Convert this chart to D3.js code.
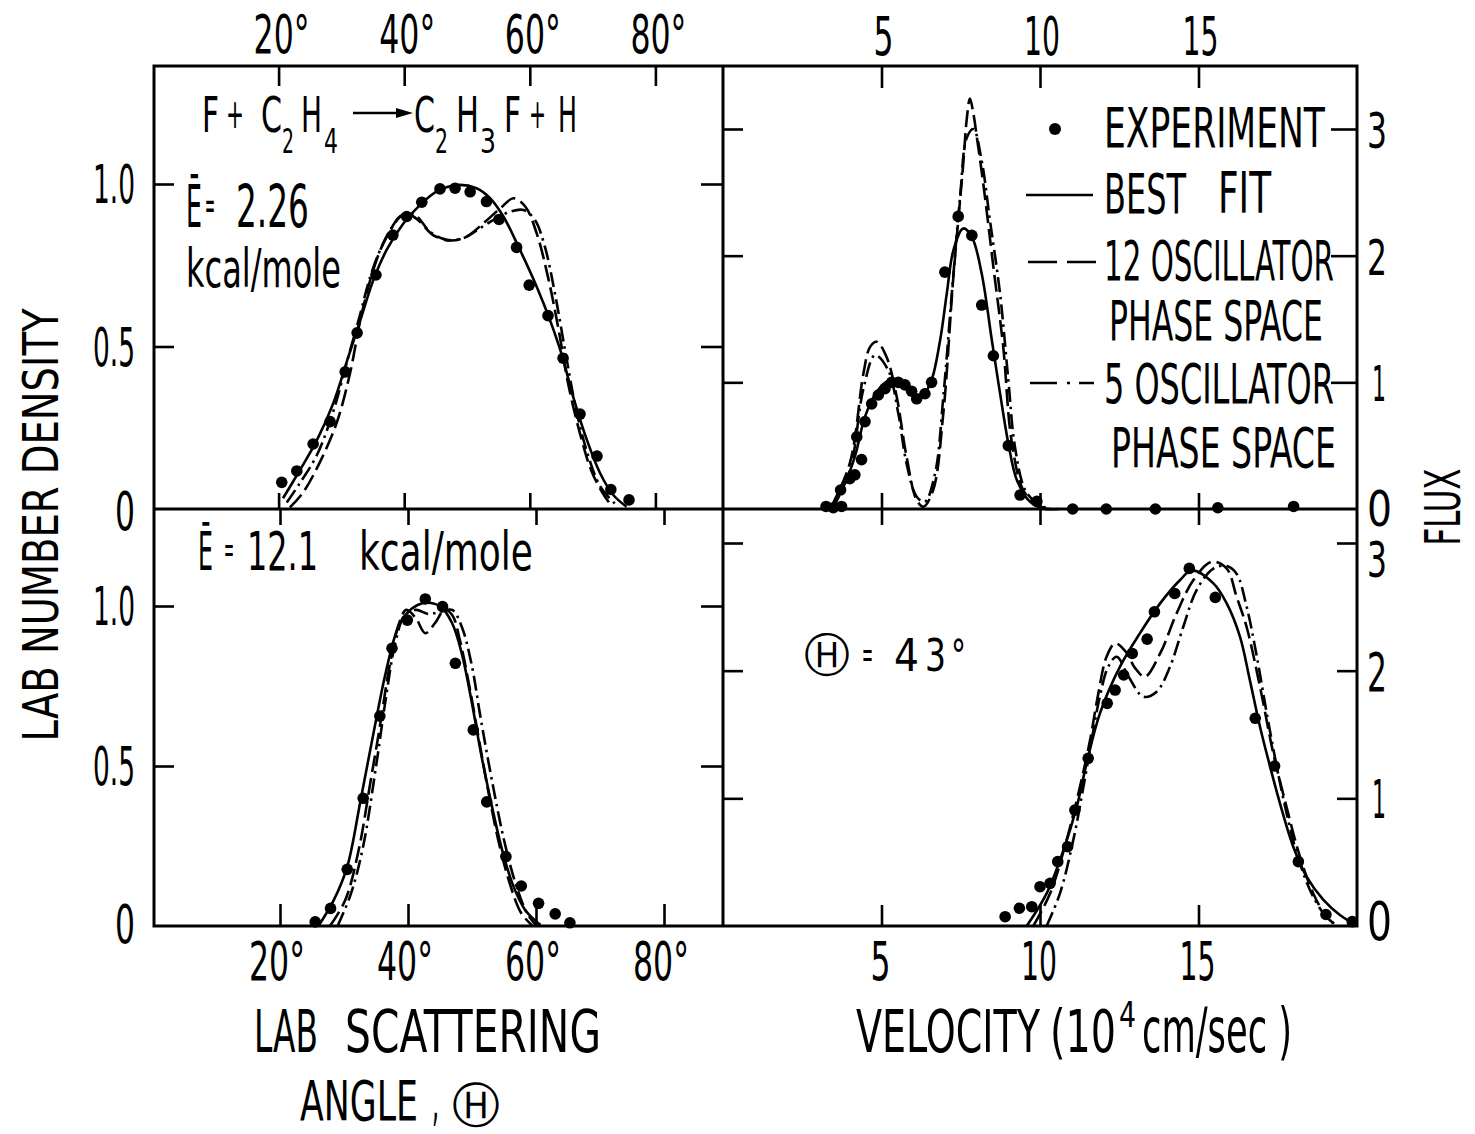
<!DOCTYPE html>
<html><head><meta charset="utf-8">
<script src="https://cdn.jsdelivr.net/npm/d3@7"></script>
<style>body{margin:0;background:#fff}</style>
</head><body>
<svg id="c" width="1475" height="1134" xmlns="http://www.w3.org/2000/svg"></svg>
<script>
// ---------------- DATA ----------------
const angleTicks = [20, 40, 60, 80];
const velocityTicks = [5, 10, 15];
const densityTicks = [0, 0.5, 1.0];
const densityLabels = ["0", "0.5", "1.0"];
const fluxTicks = [0, 1, 2, 3];
const fluxLabels = ["0", "1", "2", "3"];

// top-left: angle (deg) vs lab number density, E = 2.26 kcal/mole
const tlExperiment = [[20.5,0.082],[22.9,0.117],[25.5,0.200],[28.2,0.269],[30.6,0.422],[32.5,0.542],[35.5,0.720],[38.2,0.843],[40.4,0.900],[42.8,0.944],[45.7,0.985],[48.1,0.987],[50.5,0.976],[53.1,0.946],[55.1,0.891],[57.9,0.805],[59.9,0.689],[62.9,0.595],[65.3,0.464],[68.0,0.292],[70.7,0.163],[72.9,0.060],[75.8,0.028]];
const tlBestFit = [[20.7,0.033],[23.4,0.12],[26.1,0.212],[28.7,0.325],[31.1,0.468],[33.0,0.58],[35.1,0.705],[37.2,0.797],[39.9,0.879],[42.5,0.935],[45.2,0.977],[48.4,0.997],[51.5,0.987],[53.7,0.956],[55.8,0.90],[58.2,0.807],[61.1,0.684],[63.2,0.582],[65.1,0.474],[66.9,0.346],[69.1,0.212],[71.2,0.11],[73.3,0.043],[75.4,0.007]];
const tlOsc12 = [[21.8,0.005],[23.9,0.051],[26.6,0.145],[29.3,0.268],[31.4,0.42],[33.0,0.58],[34.6,0.705],[36.2,0.797],[37.8,0.858],[39.3,0.90],[40.9,0.905],[42.5,0.884],[44.6,0.843],[47.3,0.826],[49.9,0.838],[52.6,0.879],[55.3,0.925],[57.4,0.956],[59.3,0.93],[61.1,0.848],[63.0,0.705],[64.6,0.55],[66.1,0.386],[68.0,0.232],[69.8,0.118],[71.7,0.046],[73.0,0.01]];
const tlOsc5 = [[21.3,0.02],[23.4,0.08],[26.1,0.166],[28.7,0.30],[31.1,0.468],[33.0,0.60],[34.6,0.715],[36.4,0.807],[38.3,0.874],[40.1,0.91],[42.0,0.90],[44.1,0.853],[46.8,0.828],[49.4,0.833],[52.1,0.864],[54.7,0.895],[56.9,0.915],[59.0,0.92],[60.8,0.89],[62.4,0.807],[64.1,0.653],[65.8,0.468],[67.4,0.304],[69.2,0.17],[71.3,0.067],[73.9,0.01]];

// bottom-left: angle vs density, E = 12.1 kcal/mole
const blExperiment = [[25.5,0.013],[27.9,0.055],[30.5,0.177],[33.0,0.399],[35.6,0.656],[37.5,0.868],[39.9,0.956],[42.7,1.022],[45.4,0.998],[47.4,0.821],[50.2,0.613],[52.3,0.388],[55.3,0.217],[57.7,0.125],[60.4,0.071],[63.0,0.038],[65.3,0.010]];
const blBestFit = [[26.0,0.0],[28.4,0.081],[30.5,0.185],[32.6,0.394],[34.4,0.581],[36.5,0.79],[38.3,0.925],[39.8,0.977],[41.5,1.003],[43.0,1.01],[45.1,0.998],[46.9,0.946],[48.4,0.852],[49.9,0.706],[51.4,0.54],[52.9,0.394],[54.7,0.238],[56.5,0.123],[58.3,0.05],[60.7,0.003]];
const blOsc12 = [[27.8,0.0],[30.2,0.081],[32.3,0.238],[34.1,0.446],[35.6,0.623],[37.1,0.81],[38.6,0.946],[39.75,0.988],[41.25,0.961],[42.7,0.915],[44.2,0.946],[45.7,0.988],[46.9,0.972],[48.1,0.894],[49.6,0.748],[51.1,0.581],[52.6,0.415],[54.1,0.269],[55.9,0.133],[57.7,0.04],[59.5,0.0]];
const blOsc5 = [[29.0,0.0],[31.1,0.102],[33.0,0.25],[35.0,0.498],[36.5,0.706],[38.0,0.883],[39.5,0.972],[41.25,0.988],[43.2,0.975],[45.1,0.982],[46.9,0.988],[48.4,0.935],[49.9,0.821],[51.4,0.644],[53.2,0.446],[55.0,0.269],[56.8,0.133],[58.6,0.04],[60.1,0.0]];

// top-right: velocity (1e4 cm/s) vs flux
const trExperiment = [[3.25,0.02],[3.48,0.01],[3.74,0.02],[3.71,0.15],[4.0,0.24],[4.16,0.27],[4.37,0.39],[4.22,0.57],[4.48,0.69],[4.69,0.83],[4.9,0.90],[5.11,0.95],[5.32,1.0],[5.53,1.0],[5.74,0.98],[5.95,0.93],[6.11,0.87],[6.37,0.91],[6.58,1.0],[7.0,1.87],[7.42,2.31],[7.85,2.16],[8.16,1.61],[8.53,1.21],[9.0,0.50],[9.37,0.11],[9.9,0.06],[11.03,0.0],[12.09,0.0],[13.64,0.0],[15.61,0.01],[18.0,0.02]];
const trBestFit = [[3.38,0.0],[3.8,0.176],[4.16,0.413],[4.48,0.729],[4.85,0.926],[5.27,1.018],[5.69,0.992],[6.06,0.886],[6.32,0.90],[6.58,1.018],[6.85,1.334],[7.06,1.702],[7.27,2.044],[7.58,2.215],[7.85,2.149],[8.16,1.86],[8.48,1.334],[8.74,0.913],[9.0,0.519],[9.27,0.229],[9.68,0.058],[10.1,0.005],[10.6,0.0]];
const trOsc12 = [[3.38,0.0],[4.0,0.36],[4.43,1.07],[4.64,1.28],[4.85,1.32],[5.16,1.2],[5.48,0.886],[5.79,0.413],[6.11,0.07],[6.32,0.018],[6.63,0.15],[6.95,0.755],[7.26,1.81],[7.58,2.73],[7.69,3.08],[7.79,3.24],[7.9,3.12],[8.0,2.95],[8.21,2.57],[8.53,1.91],[8.84,1.28],[9.1,0.545],[9.47,0.15],[9.9,0.03],[10.3,0.0]];
const trOsc5 = [[3.45,0.0],[4.0,0.3],[4.43,0.95],[4.8,1.215],[5.21,1.097],[5.53,0.755],[5.79,0.36],[6.11,0.097],[6.37,0.058],[6.69,0.28],[6.95,0.886],[7.21,1.675],[7.48,2.465],[7.69,2.93],[7.9,3.0],[8.16,2.75],[8.42,2.28],[8.74,1.70],[9.0,1.02],[9.21,0.49],[9.53,0.15],[9.9,0.045],[10.3,0.0]];

// bottom-right: velocity vs flux at lab angle 43 deg
const brExperiment = [[8.9,0.073],[9.35,0.139],[9.74,0.151],[10.0,0.308],[10.32,0.334],[10.56,0.504],[10.87,0.621],[11.1,0.908],[11.52,1.313],[12.12,1.744],[12.37,1.848],[12.64,1.966],[12.91,2.135],[13.38,2.247],[13.61,2.461],[14.25,2.605],[14.71,2.801],[15.53,2.574],[16.79,1.627],[17.4,1.253],[18.15,0.504],[19.02,0.09],[19.85,0.034]];
const brBestFit = [[9.58,0.0],[10.21,0.256],[10.74,0.595],[11.16,0.934],[11.47,1.274],[11.89,1.666],[12.52,2.03],[13.15,2.292],[13.79,2.527],[14.42,2.71],[14.78,2.785],[15.47,2.684],[15.89,2.527],[16.31,2.265],[16.62,1.926],[16.94,1.561],[17.26,1.247],[17.57,0.961],[17.99,0.621],[18.41,0.386],[18.94,0.204],[19.46,0.086],[19.88,0.021]];
const brOsc12 = [[9.79,0.0],[10.32,0.256],[10.84,0.673],[11.26,1.09],[11.58,1.457],[11.84,1.822],[12.1,2.109],[12.37,2.214],[12.7,2.15],[13.0,2.02],[13.31,1.952],[13.79,2.135],[14.31,2.449],[14.84,2.71],[15.42,2.853],[15.89,2.8],[16.2,2.58],[16.52,2.34],[16.94,1.874],[17.36,1.352],[17.78,0.93],[18.2,0.543],[18.62,0.255],[19.04,0.073],[19.36,0.0]];
const brOsc5 = [[10.21,0.0],[10.63,0.256],[11.05,0.673],[11.37,1.09],[11.63,1.457],[11.89,1.8],[12.15,2.03],[12.42,2.109],[12.8,1.95],[13.26,1.796],[13.68,1.835],[14.1,2.03],[14.52,2.344],[14.94,2.631],[15.47,2.8],[15.89,2.82],[16.2,2.76],[16.52,2.5],[16.84,2.11],[17.15,1.67],[17.47,1.247],[17.78,0.882],[18.1,0.57],[18.52,0.28],[18.94,0.1],[19.36,0.0]];

const legendLabels = ["EXPERIMENT", "BEST", "FIT", "12 OSCILLATOR", "PHASE SPACE", "5 OSCILLATOR", "PHASE SPACE"];

// ---------------- DRAW ----------------
const svg = d3.select('#c');
const FONT = "'Liberation Sans Narrow','DejaVu Sans Condensed','Liberation Sans',Arial,sans-serif";
const X0 = 154, XM = 723, X1 = 1357, Y0 = 66, YM = 509, Y1 = 926;

const xTL = d3.scaleLinear().domain([0, 90]).range([153, 718.2]);
const xBL = d3.scaleLinear().domain([0, 90]).range([152, 728]);
const xR  = d3.scaleLinear().domain([0, 20]).range([723, 1357]);
const yTL = d3.scaleLinear().domain([0, 1]).range([509, 184]);
const yBL = d3.scaleLinear().domain([0, 1]).range([926, 606]);
const yTR = d3.scaleLinear().domain([0, 3]).range([509, 129]);
const yBR = d3.scaleLinear().domain([0, 3]).range([926, 543]);

// text helper: condensed lettering done by a horizontal scale so the drawn box matches
function txt(x, y, s, o = {}) {
  const size = o.size || 54;
  const t = svg.append('text').text(s)
    .attr('font-family', o.family || FONT).attr('font-size', size).attr('fill', '#000');
  if (!o.w) {
    t.attr('x', x).attr('y', y).attr('text-anchor', o.anchor || 'start');
    if (o.rot) t.attr('transform', `rotate(${o.rot},${x},${y})`);
    return t;
  }
  const nat = t.node().getComputedTextLength() || o.w;
  const k = o.w / nat;
  const off = o.anchor === 'middle' ? -o.w / 2 : (o.anchor === 'end' ? -o.w : 0);
  const rot = o.rot ? ` rotate(${o.rot})` : '';
  t.attr('x', 0).attr('y', 0)
   .attr('transform', `translate(${x},${y})${rot} translate(${off},0) scale(${k},1)`);
  return t;
}

// frame
const frame = svg.append('g').attr('stroke', '#000').attr('stroke-width', 3).attr('fill', 'none');
frame.append('rect').attr('x', X0).attr('y', Y0).attr('width', X1 - X0).attr('height', Y1 - Y0);
frame.append('line').attr('x1', XM).attr('x2', XM).attr('y1', Y0).attr('y2', Y1);
frame.append('line').attr('x1', X0).attr('x2', X1).attr('y1', YM).attr('y2', YM);

function ticks(axis, tx, ty) {
  const g = svg.append('g').attr('transform', `translate(${tx},${ty})`).call(axis);
  g.select('.domain').remove();
  g.selectAll('text').remove();
  g.selectAll('line').attr('stroke', '#000').attr('stroke-width', 2.6);
}
// x ticks
ticks(d3.axisBottom(xTL).tickValues(angleTicks).tickSize(20), 0, Y0);
ticks(d3.axisTop(xTL).tickValues(angleTicks).tickSize(16), 0, YM);
ticks(d3.axisBottom(xBL).tickValues(angleTicks).tickSize(16), 0, YM);
ticks(d3.axisTop(xBL).tickValues(angleTicks).tickSize(22), 0, Y1);
ticks(d3.axisBottom(xR).tickValues(velocityTicks).tickSize(22), 0, Y0);
ticks(d3.axisTop(xR).tickValues(velocityTicks).tickSize(16), 0, YM);
ticks(d3.axisBottom(xR).tickValues(velocityTicks).tickSize(16), 0, YM);
ticks(d3.axisTop(xR).tickValues(velocityTicks).tickSize(21), 0, Y1);
// y ticks
ticks(d3.axisRight(yTL).tickValues([0.5, 1]).tickSize(20), X0, 0);
ticks(d3.axisLeft(yTL).tickValues([0.5, 1]).tickSize(22), XM, 0);
ticks(d3.axisRight(yBL).tickValues([0.5, 1]).tickSize(20), X0, 0);
ticks(d3.axisLeft(yBL).tickValues([0.5, 1]).tickSize(22), XM, 0);
ticks(d3.axisRight(yTR).tickValues([1, 2, 3]).tickSize(20), XM, 0);
ticks(d3.axisLeft(yTR).tickValues([1, 2, 3]).tickSize(26), X1, 0);
ticks(d3.axisRight(yBR).tickValues([1, 2, 3]).tickSize(20), XM, 0);
ticks(d3.axisLeft(yBR).tickValues([1, 2, 3]).tickSize(20), X1, 0);

// tick labels
angleTicks.forEach(v => txt(xTL(v) + 3, 53, v + '°', {anchor: 'middle', w: 56, size: 53}));
angleTicks.forEach(v => txt(xBL(v) - 3, 980, v + '°', {anchor: 'middle', w: 56, size: 53}));
velocityTicks.forEach(v => txt(xR(v) + 2, 55, String(v), {anchor: 'middle', w: v < 10 ? 20 : 36, size: 53}));
velocityTicks.forEach(v => txt(xR(v) - 1, 980, String(v), {anchor: 'middle', w: v < 10 ? 20 : 36, size: 53}));
densityTicks.forEach((v, i) => {
  const wd = densityLabels[i].length > 1 ? 42 : 20;
  txt(135, yTL(v) + (v === 0 ? 21 : 19), densityLabels[i], {anchor: 'end', w: wd, size: 53});
  txt(135, yBL(v) + (v === 0 ? 17 : 19), densityLabels[i], {anchor: 'end', w: wd, size: 53});
});
fluxTicks.forEach((v, i) => {
  const wd = fluxLabels[i] === '1' ? 14 : (fluxLabels[i] === '0' ? 25 : 20);
  const xx = fluxLabels[i] === '1' ? 1372 : 1367;
  txt(xx, yTR(v) + (v === 0 ? 17 : 19), fluxLabels[i], {w: wd, size: 50});
  txt(xx, yBR(v) + (v === 3 ? 34 : (v === 0 ? 14 : 20)), fluxLabels[i], {w: wd, size: v === 3 ? 50 : 53});
});

// curves
const styles = {best: null, osc12: '17,6', osc5: '15,5,2.5,5'};
function panel(xs, ys, exp, best, o12, o5) {
  const line = d3.line().x(d => xs(d[0])).y(d => ys(d[1])).curve(d3.curveCatmullRom.alpha(0.5));
  [[o5, styles.osc5], [o12, styles.osc12], [best, styles.best]].forEach(([data, dash]) => {
    svg.append('path').datum(data).attr('d', line).attr('fill', 'none')
      .attr('stroke', '#000').attr('stroke-width', 2.6)
      .attr('stroke-dasharray', dash).attr('stroke-linecap', 'butt');
  });
  svg.append('g').selectAll('circle').data(exp).join('circle')
    .attr('cx', d => xs(d[0])).attr('cy', d => ys(d[1])).attr('r', 5.8).attr('fill', '#000');
}
panel(xTL, yTL, tlExperiment, tlBestFit, tlOsc12, tlOsc5);
panel(xBL, yBL, blExperiment, blBestFit, blOsc12, blOsc5);
panel(xR, yTR, trExperiment, trBestFit, trOsc12, trOsc5);
panel(xR, yBR, brExperiment, brBestFit, brOsc12, brOsc5);

// legend
svg.append('circle').attr('cx', 1055).attr('cy', 129).attr('r', 6).attr('fill', '#000');
const lg = svg.append('g').attr('stroke', '#000').attr('stroke-width', 2.6).attr('fill', 'none');
lg.append('line').attr('x1', 1026).attr('x2', 1093).attr('y1', 195).attr('y2', 195);
lg.append('line').attr('x1', 1028).attr('x2', 1097).attr('y1', 262).attr('y2', 262).attr('stroke-dasharray', '29,10');
lg.append('line').attr('x1', 1030).attr('x2', 1094).attr('y1', 383).attr('y2', 383).attr('stroke-dasharray', '27,10,3,9,20');
const legPos = [[1104, 147, 221], [1104, 213, 82], [1218, 213, 53], [1104, 280, 230], [1109, 340, 214], [1104, 403, 230], [1111, 467, 225]];
legendLabels.forEach((s, i) => txt(legPos[i][0], legPos[i][1], s, {w: legPos[i][2], size: 56}));

// reaction F + C2H4 -> C2H3F + H
const R = [["F",202,132,17,49],["+",226,128,18,40],["C",261,132,21,49],["2",282,153,12,33],["H",301,132,21,49],["4",324,153,14,33],
           ["C",414,132,21,49],["2",435,153,13,33],["H",456,132,23,49],["3",480,153,16,33],["F",504,132,17,49],["+",529,128,17,40],["H",558,132,19,49]];
R.forEach(r => txt(r[1], r[2], r[0], {w: r[3], size: r[4]}));
svg.append('line').attr('x1', 353).attr('x2', 402).attr('y1', 113).attr('y2', 113).attr('stroke', '#000').attr('stroke-width', 2.6);
svg.append('path').attr('d', 'M396,108 L413,113 L396,118 Z').attr('fill', '#000');

// energy labels
txt(186, 227, 'Ē', {w: 16, size: 58});
txt(205, 219, '=', {w: 10, size: 40});
txt(236, 227, '2.26', {w: 73, size: 58});
txt(186, 287, 'kcal/mole', {w: 155, size: 54});
txt(198, 570, 'Ē', {w: 15, size: 53});
txt(224, 562, '=', {w: 10, size: 38});
txt(247, 570, '12.1', {w: 71, size: 53});
txt(359, 570, 'kcal/mole', {w: 174, size: 53});

// theta = 43
txt(827, 671, 'Ⓗ', {anchor: 'middle', size: 46, family: "'DejaVu Sans',sans-serif"});
txt(862, 667, '=', {w: 11, size: 38});
txt(894, 671, '4', {w: 25, size: 44});
txt(925, 671, '3', {w: 21, size: 44});
txt(951, 671, '°', {w: 15, size: 44});

// axis titles
txt(254, 1052, 'LAB', {w: 64, size: 59});
txt(345, 1052, 'SCATTERING', {w: 256, size: 59});
txt(300, 1120, 'ANGLE', {w: 118, size: 56});
txt(432, 1120, ',', {w: 7, size: 56});
txt(476, 1122, 'Ⓗ', {anchor: 'middle', size: 48, family: "'DejaVu Sans',sans-serif"});
txt(856, 1052, 'VELOCITY', {w: 184, size: 59});
txt(1050, 1052, '(10', {w: 66, size: 59});
txt(1119, 1027, '4', {w: 17, size: 36});
txt(1142, 1052, 'cm/sec )', {w: 150, size: 62});
txt(58, 525, 'LAB  NUMBER  DENSITY', {anchor: 'middle', w: 433, size: 50, rot: -90});
txt(1460, 507, 'FLUX', {anchor: 'middle', w: 77, size: 50, rot: -90});
</script>
</body></html>
